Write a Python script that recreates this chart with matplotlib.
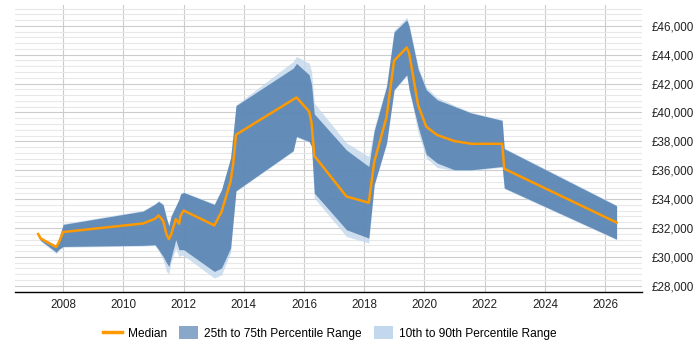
import matplotlib
matplotlib.use("Agg")
import matplotlib.pyplot as plt
from matplotlib.ticker import MultipleLocator, FuncFormatter
from matplotlib.patches import Patch
from matplotlib.lines import Line2D

plt.rcParams['font.family'] = ['Liberation Sans', 'DejaVu Sans']

# decimal years of the data points
years = [2007.17, 2007.25, 2007.77, 2007.87, 2008.0, 2010.66, 2011.05, 2011.17,
         2011.32, 2011.43, 2011.51, 2011.58, 2011.74, 2011.85, 2011.90, 2012.0,
         2013.02, 2013.26, 2013.56, 2013.65, 2013.74, 2015.64, 2015.75, 2016.17,
         2016.25, 2016.34, 2017.41, 2018.15, 2018.33, 2018.74, 2018.99, 2019.41,
         2019.49, 2019.79, 2020.06, 2020.42, 2020.99, 2021.56, 2022.58, 2022.65,
         2026.38]

median = [31580, 31275, 30680, 31070, 31720, 32315, 32640, 32870,
          32500, 31580, 31230, 31510, 32620, 32290, 32850, 33210,
          32180, 33120, 35220, 36500, 38460, 40900, 41040, 40070,
          39270, 37000, 34180, 33750, 36570, 39680, 43580, 44500,
          44110, 40500, 39010, 38440, 38020, 37830, 37830, 36100,
          32380]

p75 = [31650, 31350, 30770, 31350, 32245, 33170, 33650, 33840,
       33610, 32700, 32150, 32800, 33500, 34000, 34350, 34460,
       33630, 34650, 36840, 38600, 40470, 43070, 43400, 42610,
       41920, 39900, 37400, 36260, 38730, 41800, 45570, 46420,
       45960, 43000, 41570, 40880, 40420, 39960, 39450, 37490,
       33540]

p25 = [31450, 31140, 30330, 30540, 30720, 30800, 30840, 30500,
       30030, 29600, 29340, 29900, 31190, 30490, 30500, 30500,
       28990, 29230, 30610, 32570, 34580, 37350, 38340, 37990,
       37650, 34420, 31880, 31300, 35000, 37880, 41570, 42610,
       41600, 39000, 37100, 36500, 36030, 36030, 36260, 34770,
       31230]

p90 = [31700, 31400, 30820, 31400, 32300, 33220, 33700, 33900,
       33660, 32750, 32200, 32850, 33550, 34050, 34400, 34510,
       33680, 34700, 36890, 38650, 40520, 43530, 43880, 43420,
       42840, 40650, 37900, 36950, 38900, 41900, 45700, 46590,
       46100, 43150, 41750, 41040, 40500, 40000, 39500, 37540,
       33590]

p10 = [31400, 31090, 30220, 30490, 30670, 30750, 30790, 30400,
       29800, 29000, 28800, 29600, 30600, 30000, 30100, 30100,
       28530, 28760, 30300, 32520, 34530, 37300, 38290, 37940,
       37600, 34070, 31410, 30960, 34950, 37830, 41520, 42560,
       41550, 38600, 36840, 36190, 35980, 35980, 36200, 34720,
       31180]

dark = '#4a78ab'
light = '#c3d8ec'
orange = '#ff9900'

fig = plt.figure(figsize=(7, 3.5), dpi=100)
ax = fig.add_axes([0.0214, 0.165, 0.896, 0.821])

ax.fill_between(years, p10, p90, color=light, alpha=0.8, linewidth=0, zorder=2)
ax.fill_between(years, p25, p75, color=dark, alpha=0.8, linewidth=0, zorder=3)
ax.plot(years, median, color=orange, linewidth=1.8, zorder=4)

ax.set_xlim(2006.4, 2027.23)
ax.set_ylim(27550, 47450)

ax.xaxis.set_major_locator(MultipleLocator(2))
ax.yaxis.set_major_locator(MultipleLocator(2000))
ax.yaxis.set_minor_locator(MultipleLocator(400))
ax.yaxis.set_major_formatter(FuncFormatter(lambda v, p: '£{:,.0f}'.format(v)))
ax.yaxis.tick_right()

ax.grid(which='major', axis='both', color='#cccccc', linewidth=0.8, zorder=0)
ax.grid(which='minor', axis='y', color='#e8e8e8', linewidth=0.8, zorder=0)
ax.set_axisbelow(True)

ax.tick_params(axis='both', which='both', length=0, labelsize=8.4, colors='#222222')
ax.tick_params(axis='y', pad=6.5)
ax.tick_params(axis='x', pad=5)

for s in ['top', 'right', 'left']:
    ax.spines[s].set_visible(False)
ax.spines['bottom'].set_color('black')
ax.spines['bottom'].set_linewidth(1)

handles = [Line2D([0], [0], color=orange, linewidth=2.5),
           Patch(facecolor=dark, alpha=0.65, linewidth=0),
           Patch(facecolor=light, linewidth=0)]
labels = ['Median', '25th to 75th Percentile Range', '10th to 90th Percentile Range']
fig.legend(handles, labels, loc='center', bbox_to_anchor=(0.471, 0.048), ncol=3,
           frameon=False, fontsize=8.6, handlelength=1.6, handleheight=1.3,
           columnspacing=1.0, handletextpad=0.5)

fig.savefig('out.png', dpi=100)
